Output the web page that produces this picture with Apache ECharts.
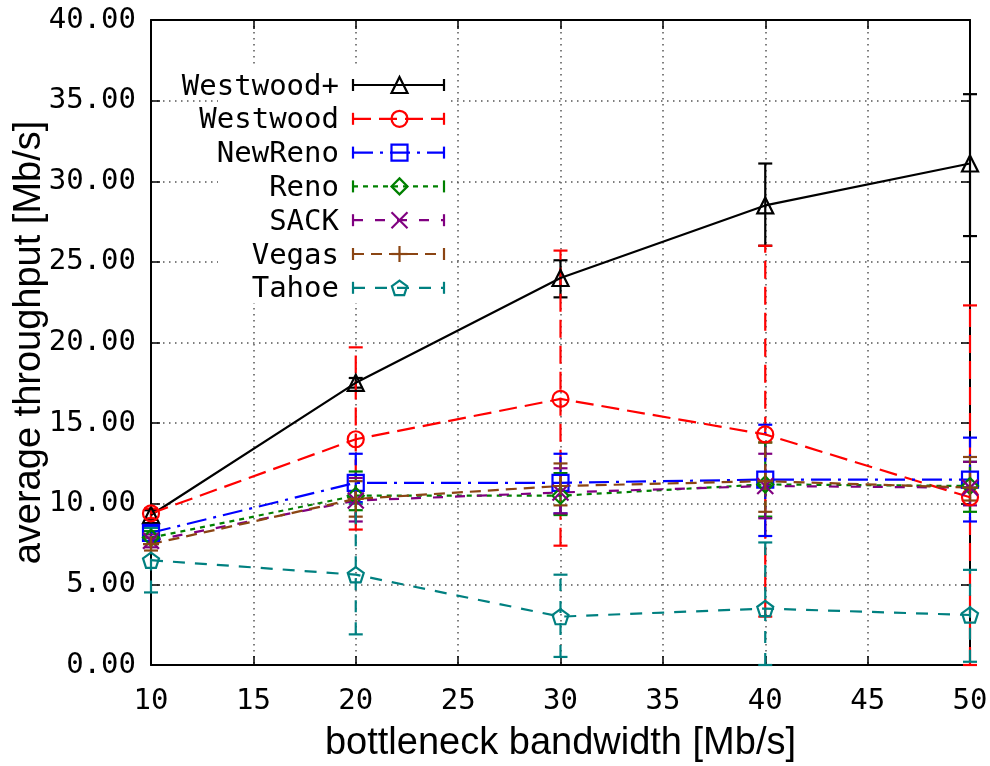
<!DOCTYPE html>
<html>
<head>
<meta charset="utf-8">
<script src="https://cdn.jsdelivr.net/npm/echarts@6/dist/echarts.min.js"></script>
<style>
  html, body { margin: 0; padding: 0; background: #ffffff; }
  #chart { width: 990px; height: 766px; }
</style>
</head>
<body>
<div id="chart"></div>
<script>
// Bottleneck bandwidth (Mb/s) on the x axis
const bandwidth = [10, 20, 30, 40, 50];

// Average throughput (Mb/s) with lower / upper error-bar ends
const westwoodPlus     = [9.3, 17.5, 24.0, 28.5, 31.1];
const westwoodPlusLow  = [9.0, 17.2, 22.8, 26.0, 26.6];
const westwoodPlusHigh = [9.6, 17.8, 25.1, 31.1, 35.4];

const westwood     = [9.4, 14.0, 16.5, 14.3, 10.4];
const westwoodLow  = [9.1, 8.4, 7.4, 3.0, 0.0];
const westwoodHigh = [9.7, 19.7, 25.7, 26.0, 22.3];

const newReno     = [8.2, 11.3, 11.3, 11.5, 11.5];
const newRenoLow  = [7.9, 10.1, 9.4, 8.0, 8.9];
const newRenoHigh = [8.6, 13.1, 13.1, 14.9, 14.1];

const reno     = [7.9, 10.5, 10.5, 11.2, 11.1];
const renoLow  = [7.5, 9.6, 9.3, 9.2, 9.5];
const renoHigh = [8.3, 12.0, 11.9, 13.8, 12.6];

const sack     = [7.7, 10.2, 10.7, 11.1, 11.0];
const sackLow  = [7.3, 8.9, 9.4, 9.1, 9.9];
const sackHigh = [8.1, 11.6, 12.2, 13.1, 12.6];

const vegas     = [7.5, 10.3, 11.1, 11.4, 11.0];
const vegasLow  = [7.1, 9.2, 9.9, 9.5, 10.2];
const vegasHigh = [7.9, 11.4, 12.5, 13.8, 12.9];

const tahoe     = [6.5, 5.6, 3.0, 3.5, 3.1];
const tahoeLow  = [4.5, 1.9, 0.5, 0.0, 0.2];
const tahoeHigh = [8.5, 10.0, 5.6, 7.6, 5.9];

// Series styling (colour, dash pattern, marker)
const protocols = [
  { name: 'Westwood+', values: westwoodPlus, low: westwoodPlusLow, high: westwoodPlusHigh, color: '#000000', dash: 'solid',          marker: 'triangle' },
  { name: 'Westwood',  values: westwood,     low: westwoodLow,     high: westwoodHigh,     color: '#ff0000', dash: [18, 8],          marker: 'circle' },
  { name: 'NewReno',   values: newReno,      low: newRenoLow,      high: newRenoHigh,      color: '#0000ff', dash: [20, 7, 3, 7],    marker: 'rect' },
  { name: 'Reno',      values: reno,         low: renoLow,         high: renoHigh,         color: '#008000', dash: [5, 5],           marker: 'diamond' },
  { name: 'SACK',      values: sack,         low: sackLow,         high: sackHigh,         color: '#800080', dash: [10, 12],         marker: 'cross' },
  { name: 'Vegas',     values: vegas,        low: vegasLow,        high: vegasHigh,        color: '#8b4513', dash: [11, 7],          marker: 'plus' },
  { name: 'Tahoe',     values: tahoe,        low: tahoeLow,        high: tahoeHigh,        color: '#008080', dash: [12, 10],         marker: 'pentagon' }
];

const MARK = 16;
const LINE_W = 2.2;
const seriesSymbols = {
  triangle: 'triangle',
  circle: 'circle',
  rect: 'rect',
  diamond: 'diamond',
  cross: 'path://M0,0L10,10M10,0L0,10',
  plus: 'path://M5,0L5,10M0,5L10,5',
  pentagon: 'path://M50,0L97.55,34.55L79.39,90.45L20.61,90.45L2.45,34.55Z'
};

function dashToArray(d) { return d === 'solid' ? null : d; }

function errorBarRenderer(color, dash) {
  return function (params, api) {
    const x = api.value(0);
    const lo = api.coord([x, api.value(1)]);
    const hi = api.coord([x, api.value(2)]);
    const w = 7;
    const barStyle = { stroke: color, lineWidth: LINE_W, lineDash: dashToArray(dash), fill: null };
    const capStyle = { stroke: color, lineWidth: LINE_W, fill: null };
    return {
      type: 'group',
      children: [
        { type: 'line', shape: { x1: lo[0], y1: lo[1], x2: hi[0], y2: hi[1] }, style: barStyle },
        { type: 'line', shape: { x1: lo[0] - w, y1: lo[1], x2: lo[0] + w, y2: lo[1] }, style: capStyle },
        { type: 'line', shape: { x1: hi[0] - w, y1: hi[1], x2: hi[0] + w, y2: hi[1] }, style: capStyle }
      ]
    };
  };
}

const series = [];
protocols.forEach(function (p) {
  series.push({
    name: p.name,
    type: 'line',
    data: bandwidth.map(function (x, i) { return [x, p.values[i]]; }),
    symbol: seriesSymbols[p.marker],
    symbolSize: MARK,
    symbolKeepAspect: true,
    showAllSymbol: true,
    lineStyle: { color: p.color, width: LINE_W, type: p.dash },
    itemStyle: { color: 'rgba(0,0,0,0)', borderColor: p.color, borderWidth: LINE_W },
    emphasis: { disabled: true },
    silent: true,
    animation: false
  });
  series.push({
    name: p.name + ' err',
    type: 'custom',
    data: bandwidth.map(function (x, i) { return [x, p.low[i], p.high[i]]; }),
    encode: { x: 0, y: [1, 2] },
    renderItem: errorBarRenderer(p.color, p.dash),
    silent: true,
    animation: false
  });
});

// Key: text, sample line with caps, and marker
function legendMarker(kind, cx, cy, color) {
  const s = { stroke: color, lineWidth: LINE_W, fill: 'rgba(0,0,0,0)' };
  const h = MARK / 2;
  switch (kind) {
    case 'triangle':
      return [{ type: 'polygon', shape: { points: [[cx, cy - h], [cx + h, cy + h], [cx - h, cy + h]] }, style: s }];
    case 'circle':
      return [{ type: 'circle', shape: { cx: cx, cy: cy, r: h }, style: s }];
    case 'rect':
      return [{ type: 'rect', shape: { x: cx - h, y: cy - h, width: MARK, height: MARK }, style: s }];
    case 'diamond':
      return [{ type: 'polygon', shape: { points: [[cx, cy - h], [cx + h, cy], [cx, cy + h], [cx - h, cy]] }, style: s }];
    case 'cross':
      return [
        { type: 'line', shape: { x1: cx - h, y1: cy - h, x2: cx + h, y2: cy + h }, style: s },
        { type: 'line', shape: { x1: cx + h, y1: cy - h, x2: cx - h, y2: cy + h }, style: s }
      ];
    case 'plus':
      return [
        { type: 'line', shape: { x1: cx, y1: cy - h, x2: cx, y2: cy + h }, style: s },
        { type: 'line', shape: { x1: cx - h, y1: cy, x2: cx + h, y2: cy }, style: s }
      ];
    case 'pentagon': {
      const pts = [];
      for (let k = 0; k < 5; k++) {
        const a = -Math.PI / 2 + k * 2 * Math.PI / 5;
        pts.push([cx + h * Math.cos(a), cy + h * Math.sin(a) + 0.8]);
      }
      return [{ type: 'polygon', shape: { points: pts }, style: s }];
    }
  }
  return [];
}

const keyElements = [
  { type: 'rect', shape: { x: 218, y: 68, width: 232, height: 235 }, style: { fill: '#ffffff' }, z: 10, silent: true }
];
const keyTop = 85, keyStep = 33.8, textRight = 339, lineStart = 353, lineEnd = 444;
protocols.forEach(function (p, i) {
  const y = keyTop + i * keyStep;
  const lineStyle = { stroke: p.color, lineWidth: LINE_W, lineDash: dashToArray(p.dash) };
  const capStyle = { stroke: p.color, lineWidth: LINE_W };
  keyElements.push({
    type: 'text', z: 11, silent: true,
    style: { text: p.name, x: textRight, y: y + 2, align: 'right', verticalAlign: 'middle',
             font: '29px "DejaVu Sans Mono"', fill: '#000000' }
  });
  keyElements.push({ type: 'line', z: 11, silent: true, shape: { x1: lineStart, y1: y, x2: lineEnd, y2: y }, style: lineStyle });
  keyElements.push({ type: 'line', z: 11, silent: true, shape: { x1: lineStart, y1: y - 6, x2: lineStart, y2: y + 6 }, style: capStyle });
  keyElements.push({ type: 'line', z: 11, silent: true, shape: { x1: lineEnd, y1: y - 6, x2: lineEnd, y2: y + 6 }, style: capStyle });
  legendMarker(p.marker, (lineStart + lineEnd) / 2 + 1, y, p.color).forEach(function (el) {
    el.z = 11; el.silent = true; keyElements.push(el);
  });
});

const tickFont = { fontFamily: 'DejaVu Sans Mono', fontSize: 29, color: '#000000' };
const titleFont = { fontFamily: 'Liberation Sans', fontSize: 38, color: '#000000' };
const gridDots = { show: true, lineStyle: { color: '#555555', width: 1.5, type: [1.5, 4.5] } };
const frameLine = { show: true, onZero: false, lineStyle: { color: '#000000', width: 2 } };
const innerTick = { show: true, inside: true, length: 9, lineStyle: { color: '#000000', width: 1.5 } };

const option = {
  backgroundColor: '#ffffff',
  animation: false,
  grid: { left: 151, right: 20, top: 20, bottom: 101, containLabel: false, outerBoundsMode: 'none' },
  xAxis: [
    {
      type: 'value', position: 'bottom', min: 10, max: 50, interval: 5,
      axisLine: frameLine, axisTick: innerTick, splitLine: gridDots,
      axisLabel: Object.assign({ margin: 22, showMaxLabel: true, showMinLabel: true }, tickFont),
      name: 'bottleneck bandwidth [Mb/s]', nameLocation: 'middle', nameGap: 60, nameMoveOverlap: false,
      nameTextStyle: titleFont
    },
    {
      type: 'value', position: 'top', min: 10, max: 50, interval: 5,
      axisLine: frameLine, axisTick: innerTick, splitLine: { show: false },
      axisLabel: { show: false }
    }
  ],
  yAxis: [
    {
      type: 'value', position: 'left', min: 0, max: 40, interval: 5,
      axisLine: frameLine, axisTick: innerTick, splitLine: gridDots,
      axisLabel: Object.assign({ margin: 15, formatter: function (v) { return v.toFixed(2); } }, tickFont),
      name: 'average throughput [Mb/s]', nameLocation: 'middle', nameGap: 102, nameRotate: 90,
      nameMoveOverlap: false,
      nameTextStyle: titleFont
    },
    {
      type: 'value', position: 'right', min: 0, max: 40, interval: 5,
      axisLine: frameLine, axisTick: innerTick, splitLine: { show: false },
      axisLabel: { show: false }
    }
  ],
  series: series,
  graphic: { elements: keyElements }
};

const chart = echarts.init(document.getElementById('chart'), null, { renderer: 'canvas' });
chart.setOption(option);
</script>
</body>
</html>
